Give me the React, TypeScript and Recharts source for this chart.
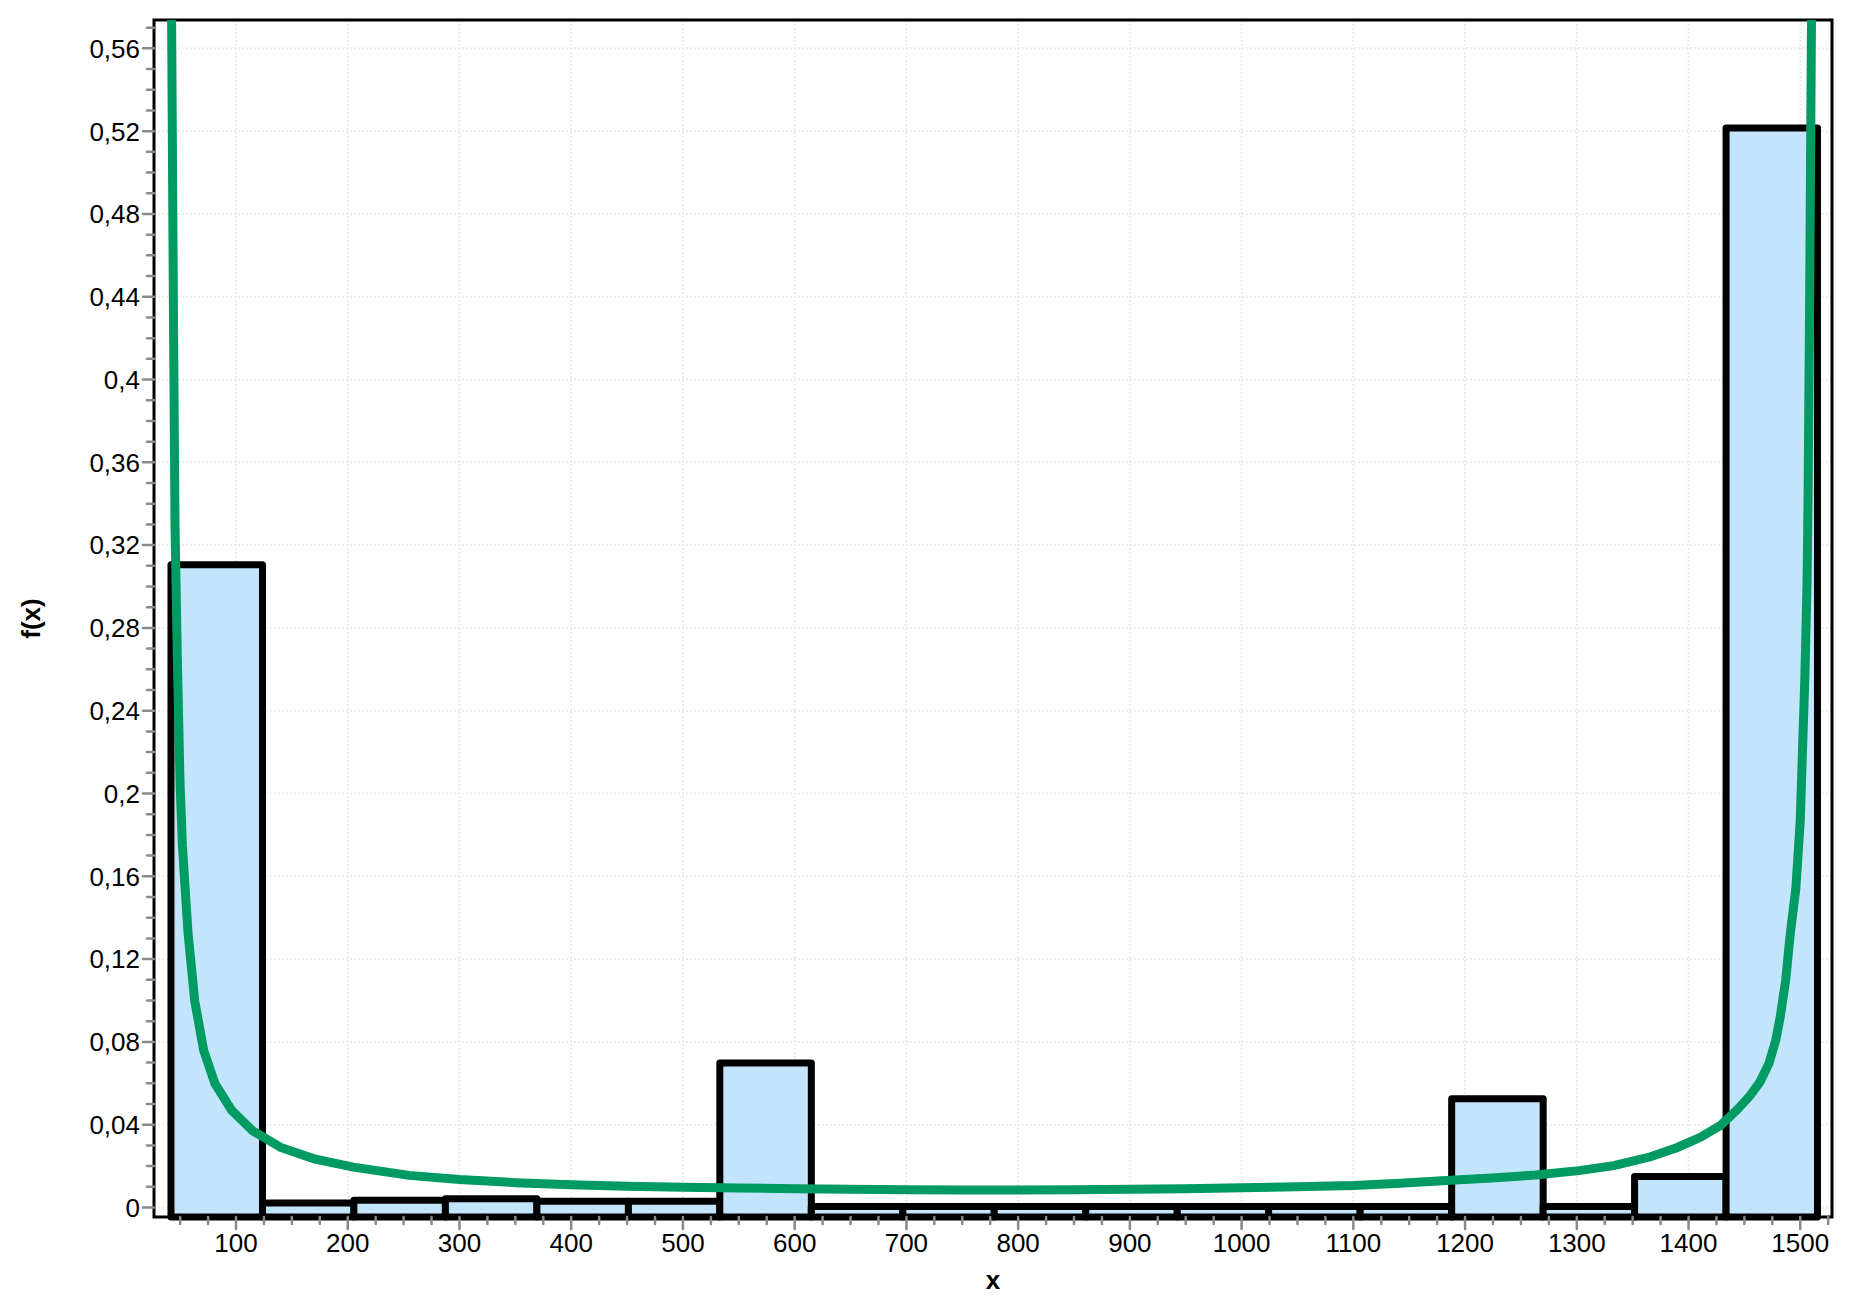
import React from "react";
import {
  ComposedChart,
  Line,
  XAxis,
  YAxis,
  CartesianGrid,
  ReferenceArea,
  Label,
} from "recharts";

/* ─── Data ──────────────────────────────────────────────────── */

// histogram bin edges (x) and bar heights (density)
const BIN_EDGES = [
  41.8, 123.7, 205.5, 287.4, 369.3, 451.2, 533.0, 614.9, 696.8, 778.6,
  860.5, 942.4, 1024.2, 1106.1, 1188.0, 1269.9, 1351.7, 1433.6, 1515.4,
];
const BIN_DENSITY = [
  0.3105, 0.0022, 0.0035, 0.0042, 0.003, 0.003, 0.0698, 0.0005, 0.0005,
  0.0005, 0.0005, 0.0005, 0.0005, 0.0005, 0.0525, 0.0005, 0.015, 0.5215,
];

// fitted density curve
const CURVE_X = [
  40.5, 42.4, 43.9, 45.4, 47.5, 49.9, 52, 57, 63, 71, 81, 96, 115, 140, 170,
  205, 255, 300, 350, 400, 450, 500, 550, 600, 650, 700, 750, 800, 850, 900,
  950, 1000, 1050, 1100, 1142, 1187, 1224, 1263, 1302, 1333, 1366, 1390,
  1411, 1429, 1444, 1455, 1464, 1472, 1478, 1482, 1487, 1491, 1496, 1500,
  1502, 1504, 1506, 1507, 1508.4, 1510, 1511,
];
const CURVE_Y = [
  0.65, 0.57, 0.44, 0.33, 0.265, 0.205, 0.175, 0.133, 0.1, 0.076, 0.06,
  0.047, 0.037, 0.029, 0.0235, 0.0195, 0.0155, 0.0135, 0.012, 0.011, 0.0103,
  0.0098, 0.0094, 0.0091, 0.0088, 0.0086, 0.0085, 0.0085, 0.0086, 0.0088,
  0.0091, 0.0095, 0.01, 0.0106, 0.0117, 0.0131, 0.0142, 0.0157, 0.0178,
  0.0202, 0.0245, 0.029, 0.034, 0.0398, 0.0475, 0.054, 0.0607, 0.0696,
  0.0807, 0.0918, 0.11, 0.132, 0.154, 0.187, 0.221, 0.254, 0.3, 0.343, 0.44,
  0.57, 0.65,
];

const X_MAJOR = [
  100, 200, 300, 400, 500, 600, 700, 800, 900, 1000, 1100, 1200, 1300, 1400,
  1500,
];
const X_LABELS = [
  "100", "200", "300", "400", "500", "600", "700", "800", "900", "1000",
  "1100", "1200", "1300", "1400", "1500",
];
const Y_MAJOR = [
  0, 0.04, 0.08, 0.12, 0.16, 0.2, 0.24, 0.28, 0.32, 0.36, 0.4, 0.44, 0.48,
  0.52, 0.56,
];
const Y_LABELS = [
  "0", "0,04", "0,08", "0,12", "0,16", "0,2", "0,24", "0,28", "0,32", "0,36",
  "0,4", "0,44", "0,48", "0,52", "0,56",
];

const X_DOMAIN: [number, number] = [26.6, 1528.4];
const Y_DOMAIN: [number, number] = [-0.0046, 0.5737];

// minor ticks: every 25 on x, every 0.01 on y
const X_TICKS = Array.from({ length: 60 }, (_, i) => 50 + i * 25);
const Y_TICKS = Array.from({ length: 58 }, (_, i) => i / 100);

/* ─── Styles ────────────────────────────────────────────────── */

const FONT = "'Liberation Sans', Arial, sans-serif";
const TICK_GRAY = "#8a8a8a";
const BAR_FILL = "#c3e5fc";
const CURVE_GREEN = "#009a63";

/* ─── Ticks ─────────────────────────────────────────────────── */

function YTick(props: any) {
  const { x, y, payload } = props;
  const idx = Y_MAJOR.findIndex((m) => Math.abs(m - payload.value) < 1e-6);
  const major = idx >= 0;
  return (
    <g>
      <line
        x1={x - (major ? 11 : 7)}
        x2={x}
        y1={y}
        y2={y}
        stroke={TICK_GRAY}
        strokeWidth={2.5}
        strokeLinecap="round"
      />
      {major && (
        <text
          x={x - 14}
          y={y}
          dy="0.36em"
          textAnchor="end"
          fontSize={26}
          fontFamily={FONT}
          fill="#000"
        >
          {Y_LABELS[idx]}
        </text>
      )}
    </g>
  );
}

function XTick(props: any) {
  const { x, y, payload } = props;
  const idx = X_MAJOR.findIndex((m) => Math.abs(m - payload.value) < 1e-6);
  const major = idx >= 0;
  return (
    <g>
      <line
        x1={x}
        x2={x}
        y1={y}
        y2={y + (major ? 12 : 7)}
        stroke={TICK_GRAY}
        strokeWidth={2.5}
        strokeLinecap="round"
      />
      {major && (
        <text
          x={x}
          y={y + 26}
          dy="0.36em"
          textAnchor="middle"
          fontSize={26}
          fontFamily={FONT}
          fill="#000"
        >
          {X_LABELS[idx]}
        </text>
      )}
    </g>
  );
}

/* ─── Component ─────────────────────────────────────────────── */

export default function App() {
  const curve = CURVE_X.map((x, i) => ({ x, f: CURVE_Y[i] }));

  return (
    <div style={{ position: "absolute", left: 0, top: 0, background: "#fff" }}>
      <ComposedChart
        width={1858}
        height={1304}
        data={curve}
        margin={{ top: 20, right: 26, bottom: 0, left: 0 }}
      >
        <CartesianGrid
          horizontalValues={Y_MAJOR}
          verticalValues={X_MAJOR}
          stroke="#ececec"
          strokeWidth={2}
          strokeDasharray="2 2"
        />
        <XAxis
          type="number"
          dataKey="x"
          domain={X_DOMAIN}
          allowDataOverflow
          ticks={X_TICKS}
          interval={0}
          tick={<XTick />}
          tickLine={false}
          axisLine={false}
          tickSize={0}
          tickMargin={0}
          height={87}
        >
          <Label
            content={(p: any) => {
              const vb = p.viewBox;
              return (
                <text
                  x={vb.x + vb.width / 2}
                  y={vb.y + 72}
                  textAnchor="middle"
                  fontSize={26}
                  fontWeight="bold"
                  fontFamily={FONT}
                >
                  x
                </text>
              );
            }}
          />
        </XAxis>
        <YAxis
          type="number"
          domain={Y_DOMAIN}
          allowDataOverflow
          ticks={Y_TICKS}
          interval={0}
          tick={<YTick />}
          tickLine={false}
          axisLine={false}
          tickSize={0}
          tickMargin={0}
          width={154}
        >
          <Label
            content={(p: any) => {
              const vb = p.viewBox;
              const cx = vb.x + 40;
              const cy = vb.y + vb.height / 2;
              return (
                <text
                  x={cx}
                  y={cy}
                  transform={`rotate(-90 ${cx} ${cy})`}
                  textAnchor="middle"
                  fontSize={26}
                  fontWeight="bold"
                  fontFamily={FONT}
                >
                  f(x)
                </text>
              );
            }}
          />
        </YAxis>

        {BIN_DENSITY.map((d, i) => (
          <ReferenceArea
            key={i}
            x1={BIN_EDGES[i]}
            x2={BIN_EDGES[i + 1]}
            y1={Y_DOMAIN[0]}
            y2={d}
            fill={BAR_FILL}
            fillOpacity={1}
            stroke="#000"
            strokeWidth={7}
            strokeLinejoin="round"
          />
        ))}

        <ReferenceArea
          x1={X_DOMAIN[0]}
          x2={X_DOMAIN[1]}
          y1={Y_DOMAIN[0]}
          y2={Y_DOMAIN[1]}
          fill="none"
          stroke="#000"
          strokeWidth={3}
        />

        <Line
          type="linear"
          dataKey="f"
          stroke={CURVE_GREEN}
          strokeWidth={9}
          dot={false}
          activeDot={false}
          isAnimationActive={false}
        />
      </ComposedChart>
    </div>
  );
}
